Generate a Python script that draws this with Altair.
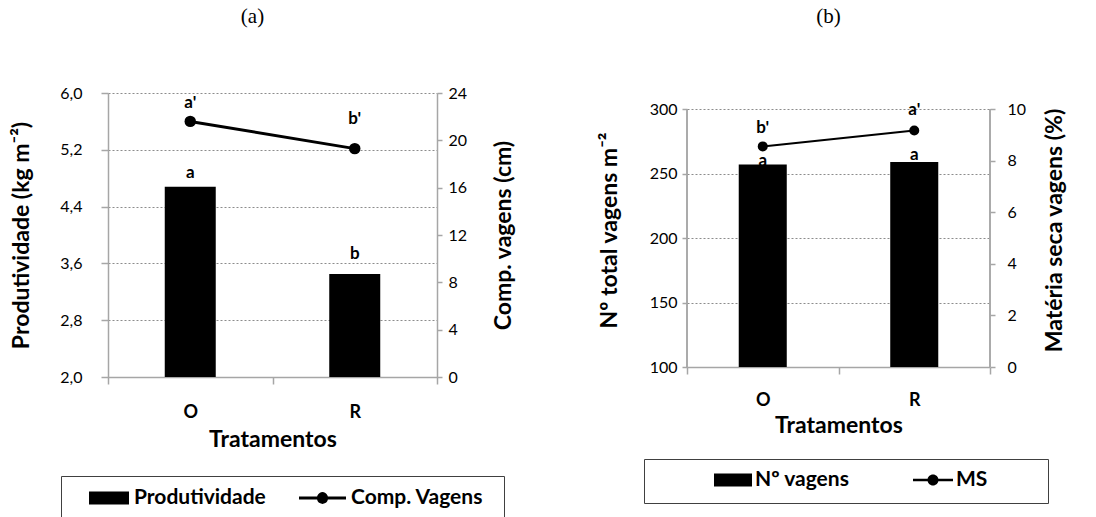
import altair as alt
import pandas as pd

# ---------------- data ----------------
tratamentos = ["O", "R"]

produtividade = [4.68, 3.45]          # kg m-2 (left axis, panel a)
comp_vagens = [21.6, 19.3]            # cm (right axis, panel a)
letras_prod = ["a", "b"]
letras_comp = ["a'", "b'"]

n_vagens = [257.0, 259.0]             # left axis, panel b
materia_seca = [8.55, 9.17]           # % (right axis, panel b)
letras_nv = ["a", "a"]
letras_ms = ["b'", "a'"]

ticks_prod = [2.0, 2.8, 3.6, 4.4, 5.2, 6.0]
ticks_comp = [0, 4, 8, 12, 16, 20, 24]
ticks_nv = [100, 150, 200, 250, 300]
ticks_ms = [0, 2, 4, 6, 8, 10]

legend_a = ["Produtividade", "Comp. Vagens"]
legend_b = ["Nº vagens", "MS"]

# ---------------- style ----------------
FONT = "Lato"
GRAY = "#a6a6a6"
GRID = "#8c8c8c"


def bar_path(W, sw, sh):
    u = 2.0 / W
    x0 = 1 - sw * u
    h = sh / 2 * u
    return f"M{x0:.3f},{-h:.3f}H1V{h:.3f}H{x0:.3f}Z"


def line_path(W, lw, t, r):
    u = 2.0 / W
    x0 = 1 - lw * u
    cx = (x0 + 1) / 2
    th = t / 2 * u
    rr = r * u
    return (f"M{x0:.3f},{-th:.3f}H1V{th:.3f}H{x0:.3f}Z"
            f"M{cx + rr:.3f},0A{rr:.3f},{rr:.3f} 0 1,1 {cx - rr:.3f},0"
            f"A{rr:.3f},{rr:.3f} 0 1,1 {cx + rr:.3f},0Z")


def panel(df, cfg):
    x = alt.X(
        "Trat:N", sort=tratamentos,
        scale=alt.Scale(domain=tratamentos, paddingInner=0, paddingOuter=0),
        axis=alt.Axis(
            title="Tratamentos", tickBand="extent", labelAngle=0,
            domainColor=GRAY, domainWidth=1.5, tickColor=GRAY, tickWidth=1.5,
            tickSize=7, labelFont=FONT, labelFontSize=18, labelFontWeight="bold",
            labelColor="black", labelPadding=cfg["xlabpad"],
            titleFont=FONT, titleFontSize=23, titleFontWeight="bold",
            titleColor="black", titlePadding=cfg["xtitlepad"], grid=False,
        ),
    )
    show_domain = not cfg.get("ruled")
    lax = alt.Axis(
        values=cfg["lticks"], labelExpr=cfg["lexpr"], title=cfg["ltitle"],
        grid=True, gridDash=[2, 2], gridColor=GRID, gridWidth=1,
        domain=show_domain, domainColor=GRAY, domainWidth=1.5,
        tickColor=GRAY, tickWidth=1.5,
        tickSize=cfg["ltick"], labelPadding=cfg["llabpad"],
        labelFont=FONT, labelFontSize=16, labelColor="black",
        titleFont=FONT, titleFontSize=23, titleFontWeight="bold",
        titleColor="black", titlePadding=cfg["ltitlepad"],
    )
    rax = alt.Axis(
        orient="right", values=cfg["rticks"], title=cfg["rtitle"],
        grid=False, domain=show_domain, domainColor=GRAY, domainWidth=1.5,
        tickColor=GRAY, tickWidth=1.5, tickSize=5,
        labelPadding=cfg["rlabpad"],
        labelFont=FONT, labelFontSize=16, labelColor="black",
        titleFont=FONT, titleFontSize=23, titleFontWeight="bold",
        titleColor="black", titlePadding=cfg["rtitlepad"], titleAngle=270,
        titleBaseline="top",
    )
    ls = alt.Scale(domain=cfg["ldomain"], nice=False, zero=False)
    rs = alt.Scale(domain=cfg["rdomain"], nice=False, zero=False)

    bars = alt.Chart(df).mark_bar(
        color="black", width=alt.RelativeBandSize(cfg["barw"]), clip=True
    ).encode(x=x, y=alt.Y("Y1:Q", scale=ls, axis=lax))

    def letters(yfield, lfield, scale, axis, dys):
        out = []
        for t, d in zip(tratamentos, dys):
            out.append(
                alt.Chart(df).transform_filter(alt.datum.Trat == t).mark_text(
                    font=FONT, fontSize=17, fontWeight="bold", color="black",
                    baseline="middle", dy=d,
                ).encode(x=x, y=alt.Y(yfield, scale=scale, axis=axis),
                         text=alt.Text(lfield))
            )
        return out

    left_layers = [bars, *letters("Y1:Q", "L1:N", ls, lax, cfg["dy1"])]
    line = alt.Chart(df).mark_line(
        color="black", strokeWidth=cfg["lw"],
        point=alt.OverlayMarkDef(filled=True, size=cfg["ps"], color="black"),
    ).encode(x=x, y=alt.Y("Y2:Q", scale=rs, axis=rax))
    right_layers = [line, *letters("Y2:Q", "L2:N", rs, rax, cfg["dy2"])]

    if cfg.get("ruled"):
        # axis lines limited to the labelled range
        lo, hi = cfg["lticks"][0], cfg["lticks"][-1]
        left_layers.append(
            alt.Chart(df).mark_rule(color=GRAY, strokeWidth=1.5).encode(
                x=alt.value(0), y=alt.YDatum(lo, scale=ls, axis=lax),
                y2=alt.Y2Datum(hi)))
        lo2, hi2 = cfg["rticks"][0], cfg["rticks"][-1]
        right_layers.append(
            alt.Chart(df).mark_rule(color=GRAY, strokeWidth=1.5).encode(
                x=alt.value(cfg["width"]), y=alt.YDatum(lo2, scale=rs, axis=rax),
                y2=alt.Y2Datum(hi2)))

    left = alt.layer(*left_layers)
    right = alt.layer(*right_layers)

    W = cfg["W"]
    leg_df = pd.DataFrame({"serie": cfg["legend"]})
    leg_kwargs = dict(
        orient="none", legendX=cfg["legX"], legendY=cfg["legY"],
        direction="horizontal", labelFont=FONT, labelFontSize=21,
        labelFontWeight="bold", labelColor="black",
        labelOffset=cfg["laboff"], symbolSize=W * W,
        symbolFillColor="black", symbolStrokeColor="black",
        symbolStrokeWidth=0, symbolOpacity=1, clipHeight=16,
        columnPadding=cfg["colpad"], padding=cfg["legpad"],
        strokeColor="#404040", fillColor="white",
        title="\u00a0", titleOrient="right", titlePadding=cfg["rightpad"],
        titleFontSize=2,
    )
    legend = alt.Chart(leg_df).mark_point(
        opacity=0, filled=True, color="black", fill="black",
    ).encode(
        shape=alt.Shape(
            "serie:N",
            scale=alt.Scale(domain=cfg["legend"],
                            range=[bar_path(W, cfg["sw"], 13),
                                   line_path(W, cfg["lsw"], cfg["lt"], 5.5)]),
            legend=alt.Legend(**leg_kwargs),
        )
    )

    return alt.layer(left, right, legend).resolve_scale(
        y="independent", shape="independent"
    ).properties(
        width=cfg["width"], height=cfg["height"],
        title=alt.TitleParams(
            cfg["title"], font="Liberation Serif", fontSize=21,
            fontWeight="normal", color="black", anchor="middle",
            frame="group", dx=cfg["tdx"], offset=cfg["toff"],
        ),
    )


df_a = pd.DataFrame({"Trat": tratamentos, "Y1": produtividade,
                     "Y2": comp_vagens, "L1": letras_prod, "L2": letras_comp})
df_b = pd.DataFrame({"Trat": tratamentos, "Y1": n_vagens,
                     "Y2": materia_seca, "L1": letras_nv, "L2": letras_ms})

comma = "replace(format(datum.value, '.1f'), '.', ',')"

# panel (b) plot starts 16 px lower than panel (a): its drawing area is made
# 16 px taller and the scales run a little past the top tick.
EXT_B = 274 / 258

cfg_a = dict(
    width=329, height=284, barw=0.31, lw=3, ps=130,
    lticks=ticks_prod, lexpr=comma, ltitle="Produtividade (kg m\u207b\u00b2)",
    ldomain=[2.0, 6.0], rticks=ticks_comp, rtitle="Comp. vagens (cm)",
    rdomain=[0, 24], ltick=7, llabpad=19, ltitlepad=26, rlabpad=6,
    rtitlepad=26, xlabpad=19, xtitlepad=7,
    dy1=[-14, -20], dy2=[-18, -30],
    legend=legend_a, W=54, sw=40, lsw=47, lt=3, laboff=5, colpad=26,
    legpad=14, rightpad=7,
    legX=-47, legY=383, title="(a)", tdx=-20, toff=58,
)
cfg_b = dict(
    width=303, height=274, barw=0.317, lw=2, ps=100, ruled=True,
    lticks=ticks_nv, lexpr="format(datum.value, 'd')",
    ltitle="Nº total vagens m\u207b\u00b2",
    ldomain=[100, 100 + 200 * EXT_B], rticks=ticks_ms,
    rtitle="Matéria seca vagens (%)",
    rdomain=[0, 10 * EXT_B], ltick=5, llabpad=5, ltitlepad=28, rlabpad=12,
    rtitlepad=18, xlabpad=17, xtitlepad=5,
    dy1=[-3, -7], dy2=[-18, -20],
    legend=legend_b, W=95, sw=38, lsw=40, lt=2.5, laboff=3, colpad=8,
    legpad=13, rightpad=48,
    legX=-43, legY=366, title="(b)", tdx=-10, toff=66,
)

chart = alt.hconcat(panel(df_a, cfg_a), panel(df_b, cfg_b), spacing=82).properties(
    padding={"left": 10, "top": 6, "right": 0, "bottom": 0}
).configure_view(stroke=None)

chart.save("out.html", embed_options={"renderer": "svg", "actions": False})
